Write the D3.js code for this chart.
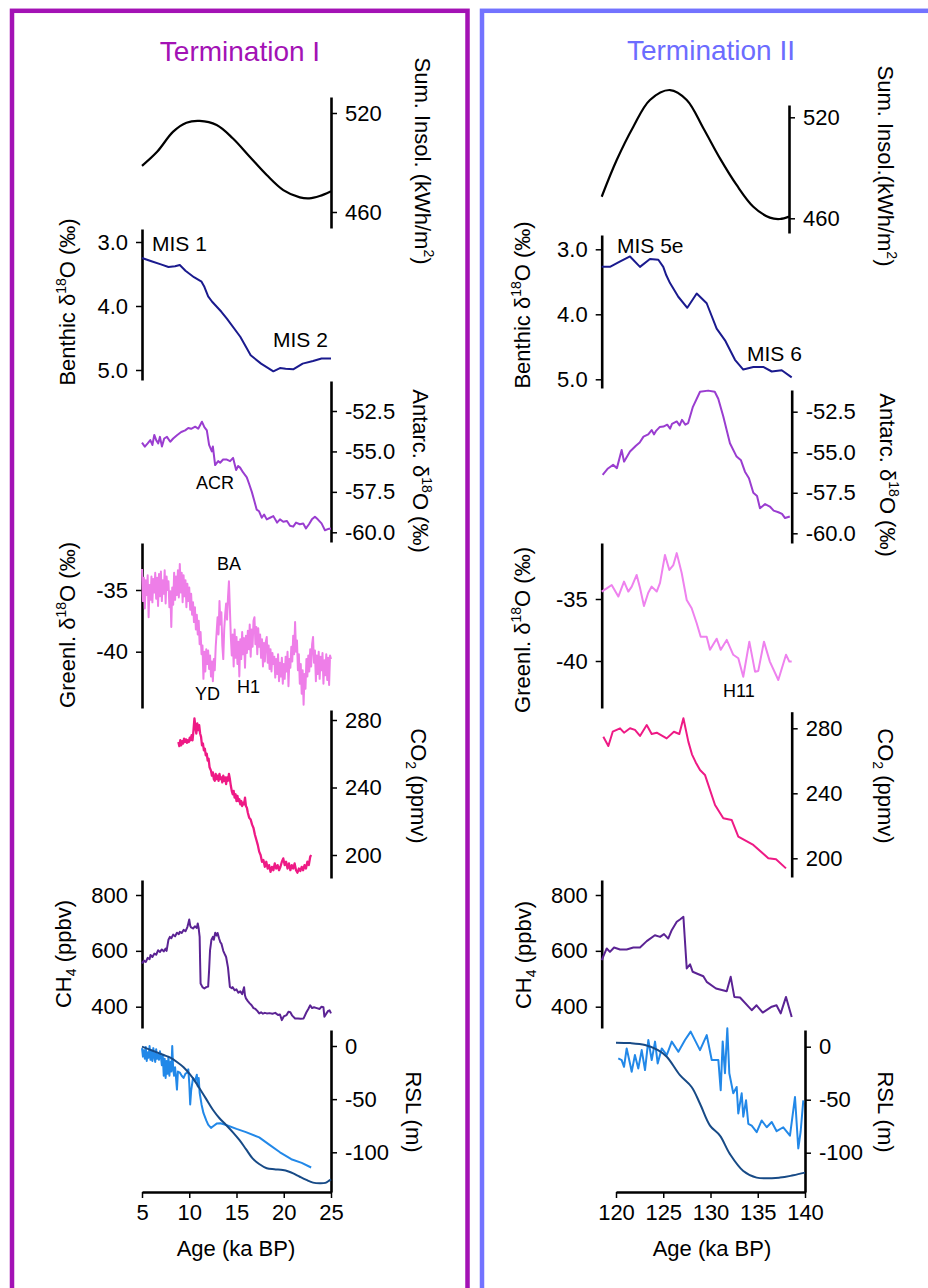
<!doctype html>
<html>
<head>
<meta charset="utf-8">
<style>
  body { margin: 0; background: #fff; }
  svg { display: block; font-family: "Liberation Sans", Arial, sans-serif; }
</style>
<script src="https://cdn.jsdelivr.net/npm/d3@7"></script>
</head>
<body>
<svg width="928" height="1288"></svg>
<script>
// ---------- data: [age ka BP, value] ----------
var insolT1 = [[5,488],[6.6,496.5],[8.3,508.7],[9.7,514.1],[11.1,515.2],[12.9,512.7],[14.6,504.7],[16.4,493.5],[18.2,482.4],[19.95,473.3],[21.7,468.9],[22.7,468.3],[23.8,469.7],[24.9,472.3],[25,472.6]];
var benthicT1 = [[5,3.25],[6,3.3],[7,3.35],[7.8,3.39],[8.5,3.38],[9.0,3.36],[9.6,3.45],[10.5,3.55],[11.3,3.62],[11.6,3.7],[12.0,3.85],[12.4,3.93],[13.4,4.09],[14.0,4.2],[15.4,4.48],[16.5,4.77],[17.6,4.9],[18.9,5.02],[19.6,4.97],[20.2,4.98],[21.0,4.99],[22.0,4.9],[23.1,4.86],[24.0,4.82],[25,4.82]];
var antarcT1 = [[5.0,-54.46],[5.3,-54.7],[5.6,-54.5],[5.88,-54.3],[6.1,-54.6],[6.3,-53.98],[6.5,-54.3],[6.72,-54.5],[6.9,-54.1],[7.11,-54.7],[7.35,-54.2],[7.64,-54.1],[7.99,-54.4],[8.3,-54.2],[8.7,-54.0],[9.15,-53.8],[9.57,-53.7],[9.9,-53.55],[10.2,-53.6],[10.63,-53.47],[10.95,-53.6],[11.34,-53.16],[11.6,-53.5],[11.86,-53.7],[12.1,-54.6],[12.39,-55.0],[12.5,-54.7],[12.74,-55.84],[13.06,-55.6],[13.27,-55.7],[13.58,-55.5],[13.98,-55.5],[14.32,-55.6],[14.64,-55.4],[14.96,-56.15],[15.17,-55.9],[15.38,-56.0],[15.7,-56.3],[16.09,-56.6],[16.33,-57.0],[16.62,-57.5],[16.86,-58.0],[17.14,-58.6],[17.39,-58.7],[17.67,-59.1],[17.92,-58.9],[18.2,-59.2],[18.55,-59.1],[18.9,-59.0],[19.29,-59.4],[19.6,-59.2],[19.95,-59.35],[20.34,-59.3],[20.66,-59.6],[21.0,-59.65],[21.3,-59.4],[21.7,-59.5],[22.06,-59.45],[22.35,-59.76],[22.67,-59.5],[22.98,-59.2],[23.3,-59.04],[23.6,-59.2],[24.0,-59.45],[24.36,-59.87],[24.67,-59.8],[25,-59.76]];
var greenlT1 = [[5.0,-33.3],[5.1,-35.9],[5.2,-34.0],[5.3,-36.5],[5.4,-34.2],[5.5,-35.4],[5.6,-33.8],[5.7,-37.2],[5.8,-34.6],[5.9,-35.8],[6.0,-33.9],[6.1,-36.0],[6.2,-34.1],[6.3,-35.2],[6.4,-33.6],[6.5,-35.7],[6.6,-34.0],[6.7,-36.3],[6.8,-33.7],[6.9,-35.5],[7.0,-33.5],[7.1,-35.9],[7.2,-34.2],[7.3,-35.3],[7.4,-33.4],[7.5,-36.1],[7.6,-33.9],[7.7,-35.0],[7.8,-34.3],[7.9,-36.4],[8.0,-35.1],[8.1,-38.0],[8.2,-34.8],[8.3,-36.2],[8.4,-33.6],[8.5,-35.8],[8.6,-33.9],[8.7,-35.4],[8.8,-33.4],[8.9,-35.6],[9.0,-32.9],[9.1,-35.2],[9.2,-33.6],[9.3,-36.0],[9.4,-33.8],[9.5,-35.5],[9.6,-34.2],[9.7,-36.4],[9.8,-34.5],[9.9,-35.9],[10.0,-34.8],[10.1,-36.6],[10.2,-35.3],[10.3,-37.0],[10.4,-36.0],[10.5,-37.6],[10.6,-36.4],[10.7,-38.2],[10.8,-37.0],[10.9,-38.6],[11.0,-37.5],[11.1,-39.4],[11.2,-38.4],[11.3,-40.2],[11.4,-39.5],[11.5,-42.2],[11.6,-40.0],[11.7,-41.6],[11.8,-39.8],[11.9,-41.0],[12.0,-39.9],[12.1,-41.4],[12.2,-40.3],[12.3,-42.0],[12.4,-40.8],[12.5,-42.4],[12.6,-40.6],[12.7,-41.5],[12.8,-39.6],[12.9,-38.4],[13.0,-37.2],[13.1,-38.6],[13.2,-35.9],[13.3,-37.8],[13.4,-36.8],[13.5,-39.5],[13.6,-40.6],[13.7,-38.2],[13.8,-37.0],[13.9,-36.1],[14.0,-37.4],[14.1,-35.6],[14.2,-34.3],[14.3,-36.5],[14.4,-38.8],[14.5,-40.3],[14.6,-38.6],[14.7,-41.2],[14.8,-38.2],[14.9,-40.5],[15.0,-38.8],[15.1,-41.0],[15.2,-39.2],[15.3,-42.0],[15.4,-39.0],[15.5,-40.6],[15.6,-38.4],[15.7,-40.2],[15.8,-38.9],[15.9,-41.3],[16.0,-38.7],[16.1,-40.1],[16.2,-38.3],[16.3,-39.8],[16.4,-37.8],[16.5,-40.4],[16.6,-38.2],[16.7,-39.6],[16.8,-37.5],[16.9,-37.2],[17.0,-39.4],[17.1,-38.0],[17.2,-40.2],[17.3,-38.1],[17.4,-39.6],[17.5,-38.6],[17.6,-40.5],[17.7,-39.0],[17.8,-41.2],[17.9,-39.3],[18.0,-40.8],[18.1,-39.2],[18.2,-38.8],[18.3,-40.9],[18.4,-39.5],[18.5,-41.4],[18.6,-39.8],[18.7,-41.6],[18.8,-40.1],[18.9,-41.0],[19.0,-40.4],[19.1,-42.1],[19.2,-40.6],[19.3,-41.8],[19.4,-40.2],[19.5,-42.4],[19.6,-40.9],[19.7,-42.0],[19.8,-40.5],[19.9,-42.6],[20.0,-41.0],[20.1,-42.2],[20.2,-40.4],[20.3,-41.6],[20.4,-40.0],[20.5,-42.8],[20.6,-40.6],[20.7,-41.3],[20.8,-39.6],[20.9,-40.8],[21.0,-38.7],[21.1,-40.2],[21.2,-37.6],[21.3,-40.0],[21.4,-39.1],[21.5,-41.5],[21.6,-40.2],[21.7,-42.6],[21.8,-41.0],[21.9,-43.4],[22.0,-41.5],[22.1,-44.3],[22.2,-41.8],[22.3,-43.0],[22.4,-40.6],[22.5,-42.0],[22.6,-40.3],[22.7,-41.6],[22.8,-39.8],[22.9,-41.2],[23.0,-39.4],[23.1,-38.8],[23.2,-40.9],[23.3,-39.9],[23.4,-42.4],[23.5,-40.3],[23.6,-41.8],[23.7,-40.0],[23.8,-42.2],[23.9,-40.4],[24.0,-41.5],[24.1,-40.1],[24.2,-42.6],[24.3,-40.7],[24.4,-41.9],[24.5,-40.2],[24.6,-42.3],[24.7,-40.5],[24.8,-42.7],[24.9,-40.3],[25.0,-40.6]];
var co2T1 = [[8.85,267],[8.95,264.5],[9.05,268],[9.15,265],[9.25,267.5],[9.35,266],[9.45,269],[9.55,267],[9.65,268.5],[9.75,266.5],[9.85,268],[9.95,267],[10.05,269.5],[10.15,268],[10.25,271],[10.35,268],[10.45,274],[10.55,281],[10.65,276],[10.75,272],[10.85,278],[10.95,274],[11.05,277],[11.15,272],[11.25,270],[11.35,265],[11.45,266],[11.55,262],[11.65,263],[11.75,259],[11.85,260],[11.95,256],[12.05,257],[12.15,252],[12.3,250],[12.4,247],[12.5,249],[12.6,245],[12.7,244],[12.8,248],[12.9,245],[13.0,247],[13.1,244],[13.2,248],[13.3,245],[13.4,246],[13.5,243],[13.6,247],[13.7,244],[13.8,246],[13.9,242],[14.0,246],[14.1,244],[14.2,248],[14.3,245],[14.4,241],[14.5,238],[14.6,236],[14.7,238],[14.8,234],[14.9,236],[15.0,232],[15.1,235],[15.2,232],[15.3,233],[15.4,230],[15.5,232],[15.6,229],[15.7,231],[15.8,230],[15.9,234],[16.0,229],[16.1,228],[16.2,225],[16.35,222],[16.5,221],[16.65,218],[16.8,216],[16.95,212],[17.1,209],[17.25,206],[17.4,202],[17.55,200],[17.7,196],[17.85,197],[18.0,193],[18.15,196],[18.3,192],[18.45,194],[18.6,190],[18.75,193],[18.9,191],[19.05,195],[19.2,192],[19.35,194],[19.5,191],[19.65,193],[19.8,196],[19.95,198],[20.1,194],[20.25,196],[20.4,192],[20.55,195],[20.7,191],[20.85,194],[21.0,192],[21.15,195],[21.3,191],[21.45,189.5],[21.6,192],[21.75,190.5],[21.9,193],[22.05,191],[22.2,194],[22.35,192],[22.5,196],[22.65,194],[22.8,199],[22.9,200]];
var ch4T1 = [[5.0,555],[5.2,565],[5.4,560],[5.6,575],[5.8,570],[5.9,585],[6.1,578],[6.3,590],[6.5,586],[6.7,602],[6.9,596],[7.1,605],[7.3,598],[7.5,608],[7.6,600],[7.8,640],[7.95,650],[8.1,645],[8.3,658],[8.5,652],[8.7,665],[8.9,660],[9.0,668],[9.2,664],[9.4,675],[9.6,670],[9.8,685],[9.9,698],[10.0,712],[10.1,690],[10.2,684],[10.4,680],[10.6,688],[10.8,682],[10.9,698],[11.0,680],[11.1,650],[11.15,560],[11.2,483],[11.4,470],[11.6,465],[11.8,470],[12.0,472],[12.1,530],[12.2,602],[12.35,640],[12.5,650],[12.6,640],[12.75,665],[12.9,655],[13.0,664],[13.15,645],[13.3,630],[13.4,626],[13.6,600],[13.8,585],[13.9,578],[14.1,540],[14.3,471],[14.5,466],[14.6,470],[14.8,459],[15.0,462],[15.2,450],[15.4,455],[15.6,445],[15.8,470],[15.9,440],[16.0,430],[16.2,420],[16.4,412],[16.6,405],[16.8,395],[17.0,392],[17.2,385],[17.4,376],[17.6,380],[17.8,375],[18.0,378],[18.2,376],[18.5,377],[18.8,375],[19.1,378],[19.4,370],[19.6,372],[19.8,352],[20.0,365],[20.3,370],[20.5,382],[20.7,380],[20.9,368],[21.2,358],[21.5,358],[21.8,357],[22.1,358],[22.4,380],[22.6,392],[22.8,405],[23.0,395],[23.2,398],[23.5,395],[23.8,392],[24.0,400],[24.2,398],[24.3,364],[24.5,375],[24.7,385],[24.85,387],[25.0,376]];
var rslDataT1 = [[5.0,-2],[5.1,-10],[5.2,-4],[5.3,-12],[5.4,-1],[5.5,-14],[5.6,-6],[5.7,-11],[5.8,0],[5.9,-13],[6.0,-5],[6.1,-14],[6.2,-2],[6.3,-10],[6.4,-15],[6.5,-3],[6.6,-12],[6.7,-8],[6.8,-13],[6.9,-5],[7.0,-10],[7.1,-18],[7.2,-9],[7.3,-28],[7.4,-12],[7.5,-30],[7.6,-14],[7.7,-26],[7.8,-10],[7.9,-28],[8.0,-15],[8.1,-24],[8.2,0],[8.3,-22],[8.4,-28],[8.5,-20],[8.6,-30],[8.7,-41],[8.8,-24],[9.0,-25],[9.2,-28],[9.4,-30],[9.6,-26],[9.8,-25],[9.9,-22],[10.0,-35],[10.1,-55],[10.2,-42],[10.4,-30],[10.6,-33],[10.8,-27],[10.9,-38],[11.0,-30],[11.1,-44],[11.3,-55],[11.5,-63],[11.8,-70],[12.0,-74],[12.3,-77],[12.6,-75],[12.9,-73],[13.3,-72.7],[13.9,-74.3],[15.0,-78],[16.0,-81],[17.4,-86],[18.5,-93],[19.6,-100],[20.8,-106.5],[21.9,-110],[22.9,-114.3]];
var rslModelT1 = [[5.0,-0.6],[6.0,-4],[7.3,-8.5],[8.0,-11],[8.7,-15],[9.4,-20],[10.1,-27],[10.6,-33],[11.1,-40],[11.8,-50],[12.5,-60],[13.2,-68],[13.9,-74.3],[14.6,-81],[15.3,-88.4],[16.0,-97],[16.7,-105.7],[17.4,-111],[18.2,-115],[19.0,-116],[19.9,-116.7],[20.5,-118],[21.0,-119.8],[21.7,-123],[22.4,-126],[23.1,-128.5],[23.8,-129.2],[24.4,-128.8],[24.8,-126.7],[25.0,-125.5]];

var insolT2 = [[120.0,472.8],[121.58,494.6],[123.33,514.4],[125.08,530.3],[127.19,536.2],[128.95,530.3],[130.7,513.5],[132.45,495.6],[134.2,479.8],[135.96,466.9],[137.7,460.4],[138.77,459.6],[139.72,461]];
var benthicT2 = [[120.0,3.27],[120.87,3.27],[121.9,3.19],[122.98,3.11],[124.03,3.27],[125.08,3.15],[125.96,3.16],[126.48,3.27],[126.8,3.4],[127.19,3.52],[128.06,3.73],[129.01,3.9],[130.0,3.68],[131.05,3.83],[132.1,4.22],[132.98,4.4],[134.03,4.7],[134.9,4.85],[135.96,4.81],[137.0,4.81],[137.9,4.88],[138.95,4.86],[140.0,4.97]];
var antarcT2 = [[120.1,-56.4],[120.66,-56.0],[121.2,-55.78],[121.6,-55.98],[122.1,-54.86],[122.35,-55.58],[122.98,-54.96],[123.6,-54.6],[124.0,-54.4],[124.4,-54.04],[124.9,-53.9],[125.26,-53.63],[125.5,-53.9],[125.7,-53.7],[126.1,-53.45],[126.5,-53.42],[126.9,-53.3],[127.2,-53.55],[127.4,-53.25],[127.9,-53.1],[128.2,-53.35],[128.45,-53.0],[128.8,-53.3],[129.1,-53.2],[129.6,-52.2],[130.35,-51.27],[131.2,-51.2],[131.9,-51.27],[132.27,-51.7],[132.8,-52.8],[133.5,-54.45],[134.2,-55.27],[134.66,-55.5],[135.08,-56.2],[135.5,-56.6],[135.96,-57.5],[136.35,-57.7],[136.66,-58.45],[137.2,-58.2],[137.7,-58.35],[138.1,-58.6],[138.6,-58.7],[138.98,-58.8],[139.3,-59.06],[139.8,-58.96]];
var greenlT2 = [[120.0,-34.41],[120.53,-34.14],[121.05,-33.87],[121.75,-34.8],[122.35,-33.6],[122.8,-34.4],[123.16,-34.0],[123.68,-33.06],[124.03,-34.1],[124.45,-35.56],[124.9,-34.5],[125.26,-34.0],[125.79,-34.4],[126.14,-33.7],[126.66,-31.45],[127.12,-32.66],[127.54,-32.26],[127.9,-31.3],[128.42,-32.9],[128.95,-35.08],[129.47,-35.75],[130.0,-36.96],[130.42,-38.04],[131.05,-38.04],[131.4,-39.1],[132.1,-38.2],[132.53,-39.1],[133.16,-38.3],[133.85,-39.5],[134.38,-39.78],[134.9,-41.27],[135.54,-38.44],[136.14,-40.86],[136.48,-40.8],[137.08,-38.44],[137.7,-40.05],[138.59,-41.53],[139.4,-39.5],[139.75,-40.05],[140.0,-40.05]];
var co2T2 = [[120.17,274.8],[120.7,269.1],[121.16,277.9],[121.93,280],[122.35,277.3],[122.98,280],[123.5,279],[124.03,275.3],[124.74,282],[125.26,276.5],[125.79,277.3],[126.84,273.8],[127.6,277.9],[128.17,276.5],[128.6,286.2],[129.12,271.8],[129.5,264],[129.9,259],[130.35,254.3],[130.87,251.3],[131.93,232.8],[132.8,224.6],[133.68,223.6],[134.38,213.3],[135.96,208.2],[137.54,200],[138.35,199.4],[139.4,193.8]];
var ch4T2 = [[120.0,566.7],[120.53,608.6],[120.87,596.4],[121.3,612],[121.93,605],[122.63,605],[123.33,612],[124.03,612],[124.74,634.8],[125.6,656],[126.14,650],[126.56,660],[127.0,644],[127.37,674],[127.9,704],[128.24,712.5],[128.6,722],[128.95,537],[129.3,552],[129.58,525],[130.0,519],[130.7,509],[131.05,489],[132.03,465],[133.16,455],[133.58,507],[133.96,435],[134.56,433],[135.79,387.5],[136.3,405],[136.95,379],[137.9,400],[138.4,405],[138.84,376],[139.4,435],[140.0,363]];
var rslDataT2 = [[120.24,-11],[120.6,-12.6],[120.85,-19],[121.13,-1.6],[121.48,-15.8],[121.66,-23.7],[122.0,-7.9],[122.36,-20.5],[122.72,-3.2],[123.07,-22],[123.42,6.3],[123.78,-12.6],[124.13,4.8],[124.41,-15.8],[124.84,-1.6],[125.37,-7.9],[125.9,4.8],[126.6,-4.8],[127.3,6.3],[127.9,14.2],[128.89,-3.2],[129.6,11],[130.13,-12.6],[130.83,-12.6],[131.08,-41],[131.29,5],[131.53,-25],[131.78,17.4],[131.99,-25],[132.41,-44],[132.77,-38],[132.94,-63],[133.3,-44],[133.47,-66],[133.76,-50.6],[134.0,-72.7],[134.36,-74.4],[134.89,-80.6],[135.42,-69.6],[135.95,-76],[136.48,-71],[137.0,-79.7],[137.7,-76],[138.41,-83.9],[138.94,-47.5],[139.29,-96],[139.54,-80],[139.82,-50.6]];
var rslModelT2 = [[120.0,3.8],[121.5,3.4],[123.07,1.6],[124.4,-3],[125.37,-9.5],[126.77,-26.9],[128.0,-38],[128.89,-53.8],[129.95,-74.4],[131.0,-83.9],[132.06,-101.3],[133.47,-117.2],[134.89,-123.5],[137.35,-123.5],[138.76,-121.3],[140,-118.8]];

var ageDomainT1 = [5, 25], ageDomainT2 = [120, 140];
var ageTicksT1 = [5, 10, 15, 20, 25], ageTicksT2 = [120, 125, 130, 135, 140];
var insolTicks = [460, 520], benthicTicks = [3.0, 4.0, 5.0], antarcTicks = [-52.5, -55.0, -57.5, -60.0];
var greenlTicks = [-35, -40], co2Ticks = [200, 240, 280], ch4Ticks = [400, 600, 800], rslTicks = [0, -50, -100];

var svg = d3.select("svg");
var FONT = "Liberation Sans, Arial, sans-serif";

// panel frames
svg.append("rect").attr("x", 12).attr("y", 10.8).attr("width", 455.5).attr("height", 1300)
   .attr("fill", "none").attr("stroke", "#a312b5").attr("stroke-width", 4.5);
svg.append("rect").attr("x", 482).attr("y", 10.8).attr("width", 480).attr("height", 1300)
   .attr("fill", "none").attr("stroke", "#7373ff").attr("stroke-width", 4.5);

svg.append("text").attr("x", 240).attr("y", 61).attr("text-anchor", "middle")
   .attr("font-size", 28).attr("fill", "#a312b5").text("Termination I");
svg.append("text").attr("x", 711).attr("y", 60).attr("text-anchor", "middle")
   .attr("font-size", 28).attr("fill", "#6c6cff").text("Termination II");

var fmt1 = function(d) { return d.toFixed(1); };
var fmt0 = function(d) { return String(d); };

function drawAxis(p) {
    var y = d3.scaleLinear().domain(p.tv).range(p.tp);
    y.domain([y.invert(p.top), y.invert(p.bottom)]).range([p.top, p.bottom]);
    var ax = (p.side == "left" ? d3.axisLeft(y) : d3.axisRight(y))
        .tickValues(p.ticks).tickSize(6).tickSizeOuter(0).tickPadding(8).tickFormat(p.fmt);
    var g = svg.append("g").attr("transform", "translate(" + p.ax + ",0)").call(ax);
    g.select(".domain").attr("stroke-width", 2.6);
    g.selectAll(".tick line").attr("stroke-width", 1.5);
    g.selectAll(".tick text").attr("font-size", 22).attr("font-family", FONT).attr("fill", "#000");
    return y;
}

function vlabel(parts, x, y, rot) {
    var t = svg.append("text")
        .attr("transform", "translate(" + x + "," + y + ") rotate(" + rot + ")")
        .attr("text-anchor", "middle").attr("font-size", 22).attr("fill", "#000");
    var shift = 0;
    parts.forEach(function(p, i) {
        var s = t.append("tspan");
        var dy = 0;
        if (typeof p == "string") { s.text(p); dy = -shift; shift = 0; }
        else {
            var off = p[1] == "sup" ? -9 : 5;
            s.text(p[0]).attr("font-size", 14);
            dy = off - shift; shift = off;
        }
        if (i == 0) dy += 7.5;
        s.attr("dy", dy);
    });
}

function plotLine(data, x, y, color, w, curve) {
    var line = d3.line().x(function(d) { return x(d[0]); }).y(function(d) { return y(d[1]); });
    if (curve) line.curve(curve);
    svg.append("path").datum(data).attr("d", line).attr("fill", "none")
       .attr("stroke", color).attr("stroke-width", w).attr("stroke-linejoin", "round");
}

function note(txt, x, y, size, anchor) {
    svg.append("text").attr("x", x).attr("y", y).attr("font-size", size)
       .attr("text-anchor", anchor || "start").attr("fill", "#000").text(txt);
}

var d18 = function(head) { return [head + " δ", ["18", "sup"], "O (‰)"]; };

// ---------- Termination I ----------
var x1 = d3.scaleLinear().domain(ageDomainT1).range([142, 331]);

var y = drawAxis({side: "right", ax: 331, top: 97, bottom: 228, tv: [460, 520], tp: [212, 113], ticks: insolTicks, fmt: fmt0});
plotLine(insolT1, x1, y, "#000", 2.2, d3.curveCatmullRom);
vlabel(["Sum. Insol. (kWh/m", ["2", "sup"], ")"], 422, 161, 90);

y = drawAxis({side: "left", ax: 142, top: 229, bottom: 380, tv: [3, 5], tp: [242, 370], ticks: benthicTicks, fmt: fmt1});
plotLine(benthicT1, x1, y, "#1a1a8e", 2);
vlabel(d18("Benthic"), 67, 302, -90);
note("MIS 1", 152, 251, 21); note("MIS 2", 273, 347, 21);

y = drawAxis({side: "right", ax: 331, top: 381, bottom: 542, tv: [-52.5, -60], tp: [411, 532.3], ticks: antarcTicks, fmt: fmt1});
plotLine(antarcT1, x1, y, "#9a3dd0", 2);
vlabel(d18("Antarc."), 420, 471, 90);
note("ACR", 196, 489, 18);

y = drawAxis({side: "left", ax: 142, top: 543, bottom: 708, tv: [-35, -40], tp: [590, 651.7], ticks: greenlTicks, fmt: fmt0});
plotLine(greenlT1, x1, y, "#ee7ee8", 2);
vlabel(d18("Greenl."), 67, 625, -90);
note("BA", 217, 570, 18); note("YD", 195, 700, 18); note("H1", 237, 693, 18);

y = drawAxis({side: "right", ax: 331, top: 710, bottom: 878, tv: [280, 200], tp: [720, 855], ticks: co2Ticks, fmt: fmt0});
plotLine(co2T1, x1, y, "#ee1a85", 2.3);
vlabel(["CO", ["2", "sub"], " (ppmv)"], 418, 786, 90);

y = drawAxis({side: "left", ax: 142, top: 880, bottom: 1028, tv: [800, 400], tp: [895, 1006.7], ticks: ch4Ticks, fmt: fmt0});
plotLine(ch4T1, x1, y, "#5b2394", 2);
vlabel(["CH", ["4", "sub"], " (ppbv)"], 63, 954, -90);

y = drawAxis({side: "right", ax: 331, top: 1030, bottom: 1192, tv: [0, -100], tp: [1046, 1152.3], ticks: rslTicks, fmt: fmt0});
plotLine(rslDataT1, x1, y, "#2288e8", 2);
plotLine(rslModelT1, x1, y, "#174a86", 2, d3.curveCatmullRom);
vlabel(["RSL (m)"], 413, 1112, 90);

var gx = svg.append("g").attr("transform", "translate(0,1192)")
    .call(d3.axisBottom(x1).tickValues(ageTicksT1).tickSize(6).tickSizeOuter(0).tickPadding(6).tickFormat(fmt0));
gx.select(".domain").attr("stroke-width", 2.6);
gx.selectAll(".tick line").attr("stroke-width", 1.5);
gx.selectAll(".tick text").attr("font-size", 22).attr("font-family", FONT).attr("fill", "#000");
note("Age (ka BP)", 236, 1256, 22, "middle");

// ---------- Termination II ----------
var x2 = d3.scaleLinear().domain(ageDomainT2).range([601.7, 791.7]);
var x2r = d3.scaleLinear().domain(ageDomainT2).range([616, 805]);

y = drawAxis({side: "right", ax: 789, top: 105, bottom: 233, tv: [460, 520], tp: [218.3, 117.3], ticks: insolTicks, fmt: fmt0});
plotLine(insolT2, x2, y, "#000", 2.2, d3.curveCatmullRom);
vlabel(["Sum. Insol.(kWh/m", ["2", "sup"], ")"], 885, 166, 90);

y = drawAxis({side: "left", ax: 601.7, top: 235, bottom: 388, tv: [3, 5], tp: [249.3, 379.3], ticks: benthicTicks, fmt: fmt1});
plotLine(benthicT2, x2, y, "#1a1a8e", 2);
vlabel(d18("Benthic"), 522, 305, -90);
note("MIS 5e", 617, 253, 21); note("MIS 6", 747, 361, 21);

y = drawAxis({side: "right", ax: 791.7, top: 390, bottom: 543, tv: [-52.5, -60], tp: [411.7, 533.3], ticks: antarcTicks, fmt: fmt1});
plotLine(antarcT2, x2, y, "#9a3dd0", 2);
vlabel(d18("Antarc."), 887, 475, 90);

y = drawAxis({side: "left", ax: 601.7, top: 543, bottom: 708, tv: [-35, -40], tp: [599, 661], ticks: greenlTicks, fmt: fmt0});
plotLine(greenlT2, x2, y, "#ee82ee", 2);
vlabel(d18("Greenl."), 522, 630, -90);
note("H11", 723, 697, 18);

y = drawAxis({side: "right", ax: 791.7, top: 711.7, bottom: 877, tv: [280, 200], tp: [728.3, 858.3], ticks: co2Ticks, fmt: fmt0});
plotLine(co2T2, x2, y, "#ee1a85", 2);
vlabel(["CO", ["2", "sub"], " (ppmv)"], 885, 786, 90);

y = drawAxis({side: "left", ax: 601.7, top: 880, bottom: 1028, tv: [800, 400], tp: [895, 1006.7], ticks: ch4Ticks, fmt: fmt0});
plotLine(ch4T2, x2, y, "#5b2394", 2);
vlabel(["CH", ["4", "sub"], " (ppbv)"], 523, 955, -90);

y = drawAxis({side: "right", ax: 805, top: 1030, bottom: 1192, tv: [0, -100], tp: [1046.7, 1152.7], ticks: rslTicks, fmt: fmt0});
plotLine(rslDataT2, x2r, y, "#2288e8", 2);
plotLine(rslModelT2, x2r, y, "#174a86", 2, d3.curveCatmullRom);
vlabel(["RSL (m)"], 885, 1112, 90);

gx = svg.append("g").attr("transform", "translate(0,1192)")
    .call(d3.axisBottom(x2r).tickValues(ageTicksT2).tickSize(6).tickSizeOuter(0).tickPadding(6).tickFormat(fmt0));
gx.select(".domain").attr("stroke-width", 2.6);
gx.selectAll(".tick line").attr("stroke-width", 1.5);
gx.selectAll(".tick text").attr("font-size", 22).attr("font-family", FONT).attr("fill", "#000");
note("Age (ka BP)", 712, 1256, 22, "middle");
</script>
</body>
</html>
